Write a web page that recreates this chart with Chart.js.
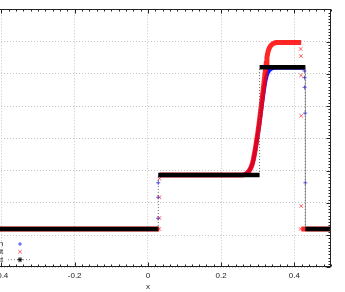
<!DOCTYPE html>
<html>
<head>
<meta charset="utf-8">
<script src="https://cdn.jsdelivr.net/npm/chart.js@4"></script>
<style>
  html, body { margin: 0; padding: 0; background: #fff; }
  #wrap { position: relative; width: 345px; height: 292px; overflow: hidden; }
  /* plot is cropped on the left like the original picture */
  #chart { position: absolute; left: -60px; top: 0; }
</style>
</head>
<body>
<div id="wrap"><canvas id="chart" width="405" height="292"></canvas></div>
<script>
// Tick labels / legend
const xTicks = [-0.4, -0.2, 0, 0.2, 0.4];
const keyLabels = ['smooth', 'explicit', 'exact'];

// Exact solution (plateaus + jumps)
const exactX = [-0.5, 0.0285, 0.0285, 0.305, 0.305, 0.43, 0.43, 0.5];
const exactY = [1.19, 1.19, 2.86, 2.86, 6.20, 6.20, 1.19, 1.19];

// "explicit" run, smooth part of the profile (null = break)
const redX = [-0.5, 0.031, 0.031, 0.032, 0.258, 0.266, 0.272, 0.277, 0.281, 0.285, 0.288, 0.291,
  0.294, 0.297, 0.300, 0.303, 0.306, 0.309, 0.312, 0.315, 0.318, 0.321, 0.323, 0.325, 0.327,
  0.329, 0.332, 0.336, 0.340, 0.345, 0.350, 0.385, 0.4185, 0.4185, 0.419, 0.5];
const redY = [1.19, 1.19, null, 2.86, 2.86, 2.88, 2.93, 3.00, 3.08, 3.20, 3.34, 3.52,
  3.72, 3.94, 4.16, 4.40, 4.68, 4.96, 5.24, 5.52, 5.82, 6.12, 6.32, 6.50, 6.63,
  6.72, 6.81, 6.88, 6.92, 6.95, 6.97, 6.97, 6.97, null, 1.19, 1.19];
// "explicit" run, points inside the shocks
const redShockX = [0.0312, 0.0313, 0.0315, 0.0316, 0.4170, 0.4172, 0.4178, 0.4182, 0.4185, 0.4185];
const redShockY = [1.19, 1.53, 2.17, 2.75, 1.19, 6.77, 6.55, 5.95, 4.70, 1.90];

// "smooth" run
const blueX = [-0.5, 0.0275, 0.0275, 0.029, 0.252, 0.262, 0.270, 0.277, 0.281, 0.285, 0.288, 0.291,
  0.294, 0.297, 0.300, 0.303, 0.306, 0.309, 0.312, 0.315, 0.318, 0.321, 0.324, 0.327, 0.331,
  0.336, 0.342, 0.350, 0.428, 0.428, 0.4305, 0.5];
const blueY = [1.19, 1.19, null, 2.86, 2.86, 2.87, 2.91, 3.00, 3.08, 3.19, 3.32, 3.49,
  3.68, 3.89, 4.10, 4.33, 4.58, 4.84, 5.10, 5.35, 5.58, 5.78, 5.93, 6.03, 6.10,
  6.15, 6.18, 6.19, 6.19, null, 1.19, 1.19];
const blueShockX = [0.0279, 0.0281, 0.0282, 0.4275, 0.4278, 0.4280, 0.4295, 0.4300];
const blueShockY = [1.52, 2.17, 2.62, 6.09, 5.88, 5.58, 4.78, 2.62];

const RED = 'rgba(255, 0, 0, 0.85)';
const RED_PT = 'rgba(255, 40, 40, 0.75)';
const BLUE = 'rgba(0, 0, 255, 0.9)';
const BLUE_PT = 'rgba(30, 30, 255, 0.75)';

const pts = (xs, ys) => xs.map((x, i) => ({ x: x, y: ys[i] }));
const isJump = c => c.p0.parsed.y !== c.p1.parsed.y;

Chart.defaults.font.family = '"Liberation Sans", Arial, sans-serif';
Chart.defaults.font.size = 8;
Chart.defaults.color = '#222';

// gnuplot style border with minor tics (mirrored)
const framePlugin = {
  id: 'frame',
  afterDatasetsDraw(chart) {
    const { ctx, chartArea: a, scales: { x, y } } = chart;
    const L = Math.round(a.left) + 0.5, R = Math.round(a.right) - 0.5;
    const T = Math.round(a.top) + 0.5, B = Math.round(a.bottom) - 0.5;
    ctx.save();
    ctx.strokeStyle = '#222';
    ctx.lineWidth = 1;
    ctx.beginPath();
    for (let i = -25; i <= 25; i++) {
      const px = Math.round(x.getPixelForValue(i * 0.02)) + 0.5;
      const len = i % 10 === 0 ? 4 : 2;
      ctx.moveTo(px, B); ctx.lineTo(px, B - len);
      ctx.moveTo(px, T); ctx.lineTo(px, T + len);
    }
    for (let j = 0; j <= 80; j++) {
      const py = Math.round(y.getPixelForValue(j * 0.1)) + 0.5;
      const len = j % 10 === 0 ? 4 : 2;
      ctx.moveTo(R, py); ctx.lineTo(R - len, py);
      ctx.moveTo(L, py); ctx.lineTo(L + len, py);
    }
    ctx.stroke();
    ctx.strokeRect(L, T, R - L, B - T);
    ctx.restore();
  }
};

// key in the lower left corner, text right aligned like gnuplot
const keyPlugin = {
  id: 'key',
  afterDraw(chart) {
    const ctx = chart.ctx;
    const textRight = 63.3, sx = 80;
    const rows = [244, 251.7, 259.7];
    ctx.save();
    ctx.font = '8px "Liberation Sans", Arial, sans-serif';
    ctx.fillStyle = '#222';
    ctx.textAlign = 'right';
    ctx.textBaseline = 'middle';
    keyLabels.forEach((t, i) => ctx.fillText(t, textRight, rows[i]));

    ctx.lineWidth = 1;
    ctx.strokeStyle = BLUE_PT;
    Chart.helpers.drawPoint(ctx, { pointStyle: 'cross', radius: 2, borderWidth: 1, rotation: 0 }, sx, rows[0]);
    ctx.strokeStyle = RED_PT;
    Chart.helpers.drawPoint(ctx, { pointStyle: 'crossRot', radius: 2.5, borderWidth: 1, rotation: 0 }, sx, rows[1]);

    ctx.strokeStyle = '#888';
    ctx.setLineDash([1, 2]);
    ctx.beginPath();
    ctx.moveTo(68, rows[2]); ctx.lineTo(90, rows[2]);
    ctx.stroke();
    ctx.setLineDash([]);
    ctx.strokeStyle = '#000';
    Chart.helpers.drawPoint(ctx, { pointStyle: 'star', radius: 2.5, borderWidth: 1, rotation: 0 }, sx, rows[2]);
    ctx.restore();
  }
};

new Chart(document.getElementById('chart'), {
  type: 'scatter',
  data: {
    datasets: [
      {
        label: keyLabels[2],
        data: pts(exactX, exactY),
        showLine: true,
        borderColor: '#000',
        borderWidth: 4.5,
        borderCapStyle: 'butt',
        pointRadius: 0,
        segment: {
          borderWidth: c => isJump(c) ? 1 : undefined,
          borderColor: c => isJump(c) ? '#666' : undefined,
          borderDash: c => isJump(c) ? [1, 2] : undefined
        }
      },
      {
        label: keyLabels[1],
        data: pts(redX, redY),
        showLine: true,
        borderColor: RED,
        borderWidth: 5,
        pointRadius: 0
      },
      {
        label: keyLabels[1] + ' shock',
        data: pts(redShockX, redShockY),
        pointStyle: 'crossRot',
        pointRadius: 2.5,
        borderWidth: 1,
        borderColor: RED_PT
      },
      {
        label: keyLabels[0],
        data: pts(blueX, blueY),
        showLine: true,
        borderColor: BLUE,
        borderWidth: 4,
        pointRadius: 0
      },
      {
        label: keyLabels[0] + ' shock',
        data: pts(blueShockX, blueShockY),
        pointStyle: 'cross',
        pointRadius: 2,
        borderWidth: 1,
        borderColor: BLUE_PT
      }
    ]
  },
  options: {
    responsive: false,
    animation: false,
    devicePixelRatio: 1,
    layout: { padding: { left: 24.8, right: 14, top: 9.3, bottom: 0 } },
    plugins: { legend: { display: false }, tooltip: { enabled: false } },
    scales: {
      x: {
        type: 'linear',
        min: -0.5,
        max: 0.5,
        afterBuildTicks: s => { s.ticks = xTicks.map(v => ({ value: v })); },
        afterFit: s => { s.height = 24.7; },
        ticks: { padding: 4, callback: v => String(v) },
        grid: { color: '#c4c4c4', drawTicks: false },
        border: { display: false, dash: [1, 2] },
        title: { display: true, text: 'x', padding: { top: 0, bottom: 0 } }
      },
      y: {
        min: 0,
        max: 8,
        ticks: { display: false, stepSize: 1 },
        afterFit: s => { s.width = 0; },
        grid: { color: '#c4c4c4', drawTicks: false },
        border: { display: false, dash: [1, 2] }
      }
    }
  },
  plugins: [framePlugin, keyPlugin]
});
</script>
</body>
</html>
